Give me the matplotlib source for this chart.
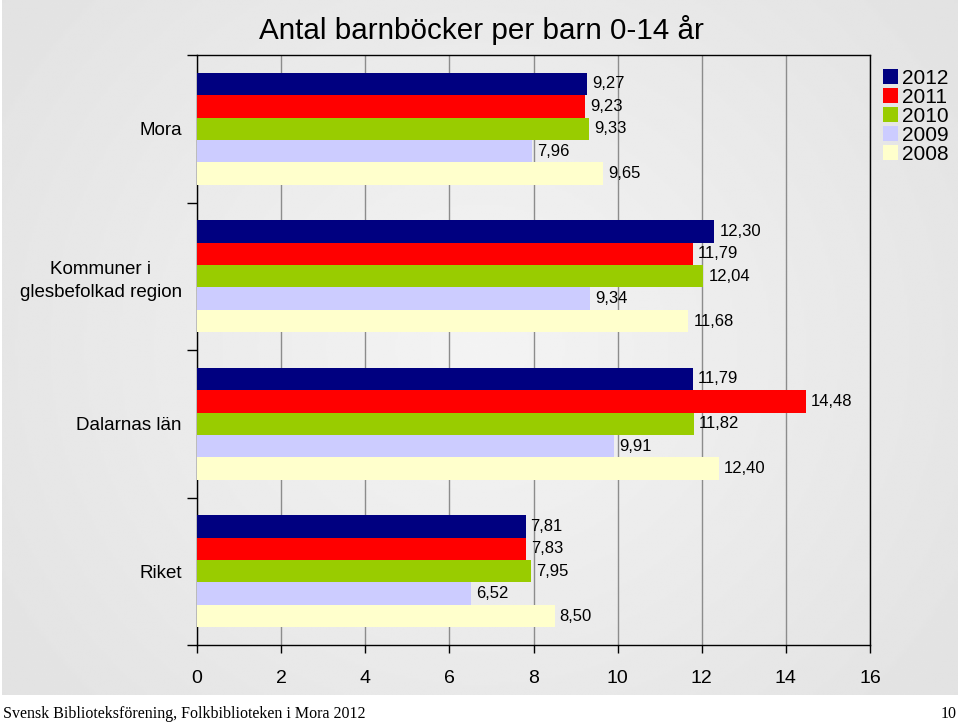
import numpy as np
import matplotlib
matplotlib.use('Agg')
import matplotlib.pyplot as plt
from matplotlib.patches import Patch

# ── data ───────────────────────────────────────────────
categories = ['Mora', 'Kommuner i\nglesbefolkad region', 'Dalarnas län', 'Riket']
years = ['2012', '2011', '2010', '2009', '2008']
v2012 = [9.27, 12.30, 11.79, 7.81]
v2011 = [9.23, 11.79, 14.48, 7.83]
v2010 = [9.33, 12.04, 11.82, 7.95]
v2009 = [7.96, 9.34, 9.91, 6.52]
v2008 = [9.65, 11.68, 12.40, 8.50]
xticks = [0, 2, 4, 6, 8, 10, 12, 14, 16]

colors = ['#000080', '#FF0000', '#99CC00', '#CCCCFF', '#FFFFCC']
series = [v2012, v2011, v2010, v2009, v2008]

plt.rcParams['font.family'] = ['Liberation Sans', 'DejaVu Sans']

W, H = 960, 725
fig = plt.figure(figsize=(W / 100, H / 100), dpi=100)
fig.patch.set_facecolor('white')

# gray gradient background (lighter toward the middle)
bg = fig.add_axes([2 / W, 1 - 695 / H, 956 / W, 695 / H])
xs = np.linspace(-1, 1, 400)
ys = np.linspace(-1, 1, 300)
X, Y = np.meshgrid(xs, ys)
r = np.sqrt((X * 0.9) ** 2 + (Y * 0.7) ** 2)
grad = 0.955 - 0.06 * np.clip(r, 0, 1.3)
bg.imshow(grad, cmap='gray', vmin=0, vmax=1, aspect='auto', interpolation='bilinear')
bg.axis('off')

ax = fig.add_axes([197 / W, 1 - 645 / H, 673 / W, 590 / H])
ax.set_facecolor('none')

n = len(series)
h = 0.76 / n
y0 = np.arange(len(categories))
for j, (vals, c) in enumerate(zip(series, colors)):
    ys_ = y0 + (j - (n - 1) / 2) * h
    ax.barh(ys_, vals, height=h, color=c, zorder=3, linewidth=0)
    for y, v in zip(ys_, vals):
        ax.text(v + 0.12, y, f'{v:.2f}'.replace('.', ','), va='center', ha='left',
                fontsize=12, zorder=4)

ax.set_xlim(0, 16)
ax.set_ylim(len(categories) - 0.5, -0.5)
ax.set_xticks(xticks)
ax.set_xticklabels([str(t) for t in xticks], fontsize=14)
ax.tick_params(axis='x', direction='out', length=6, width=1, pad=12)
ax.grid(axis='x', color='#8c8c8c', lw=1, zorder=0)
ax.set_axisbelow(True)

# category boundaries as ticks, names centered in each band
ax.set_yticks(np.arange(-0.5, len(categories), 1.0))
ax.set_yticklabels([])
ax.set_yticks(y0, minor=True)
ax.set_yticklabels(categories, minor=True, fontsize=13.5, ha='right',
                   multialignment='center', linespacing=1.45)
ax.tick_params(axis='y', which='major', direction='out', length=7, width=1)
ax.tick_params(axis='y', which='minor', length=0, pad=11)

for s in ax.spines.values():
    s.set_color('black')
    s.set_linewidth(1)

fig.text(481 / W, 1 - 30 / H, 'Antal barnböcker per barn 0-14 år',
         ha='center', va='center', fontsize=21.3)

handles = [Patch(facecolor=c, edgecolor='none') for c in colors]
fig.legend(handles, years, loc='upper left', bbox_to_anchor=(883 / W, 1 - 69 / H),
           frameon=False, fontsize=15, handlelength=0.7, handleheight=0.7,
           handletextpad=0.2, labelspacing=0.0, borderpad=0, borderaxespad=0)

fig.text(3 / W, 1 - 714 / H, 'Svensk Biblioteksförening, Folkbiblioteken i Mora 2012',
         ha='left', va='center', fontsize=11.5, family='Liberation Serif')
fig.text(957 / W, 1 - 714 / H, '10', ha='right', va='center', fontsize=11.5,
         family='Liberation Serif')

fig.savefig('out.png', dpi=100)
